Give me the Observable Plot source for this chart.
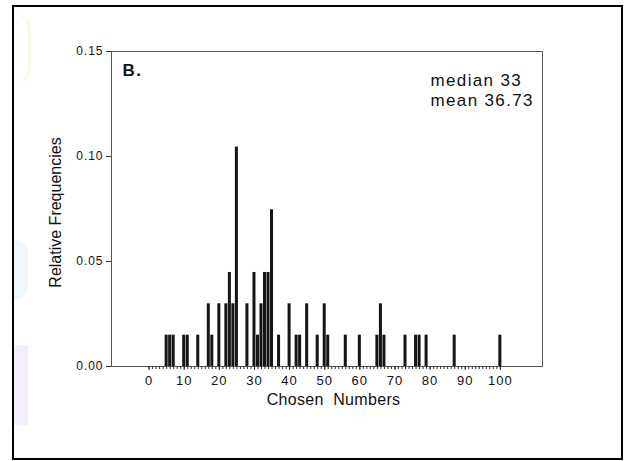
<!DOCTYPE html>
<html><head><meta charset="utf-8">
<script src="https://cdn.jsdelivr.net/npm/d3@7"></script>
<script src="https://cdn.jsdelivr.net/npm/@observablehq/plot@0.6"></script>
<style>
html,body{margin:0;padding:0;background:#fff;}
#wrap{position:relative;width:625px;height:461px;overflow:hidden;background:#fff;}
#wrap svg{position:absolute;left:0;top:0;}
#border{position:absolute;left:12px;top:5px;width:607px;height:451px;border:2px solid #000;pointer-events:none;}
.deco{position:absolute;}
</style></head><body>
<div id="wrap">
  <div class="deco" style="left:14px;top:345px;width:14px;height:80px;background:#f4eefc;"></div>
  <div class="deco" style="left:14px;top:240px;width:14px;height:60px;border-radius:0 30px 30px 0;background:#f0f7fc;"></div>
  <div class="deco" style="left:14px;top:14px;width:14px;height:70px;border-radius:0 30px 30px 0;border-right:3px solid #f7f9e4;"></div>
  <div id="border"></div>
</div>
<script>
// Data (counts out of 67 respondents)
const chosenNumbers = [5,6,7,10,11,14,17,18,20,22,23,24,25,28,30,31,32,33,34,35,37,40,42,43,45,48,50,51,56,60,65,66,67,73,76,77,79,87,100];
const counts        = [1,1,1,1, 1, 1, 2, 1, 2, 2, 3, 2, 7, 2, 3, 1, 2, 3, 3, 5, 1, 2, 1, 1, 2, 1, 2, 1, 1, 1, 1, 2, 1, 1, 1, 1, 1, 1, 1];
const xTickLabels = [0,10,20,30,40,50,60,70,80,90,100];
const xMinorTicks = [0,1,2,3,4,5,6,7,8,9,10,11,12,13,14,15,16,17,18,19,20,21,22,23,24,25,26,27,28,29,30,31,32,33,34,35,36,37,38,39,40,41,42,43,44,45,46,47,48,49,50,51,52,53,54,55,56,57,58,59,60,61,62,63,64,65,66,67,68,69,70,71,72,73,74,75,76,77,78,79,80,81,82,83,84,85,86,87,88,89,90,91,92,93,94,95,96,97,98,99,100];
const yTicks = [0, 0.05, 0.10, 0.15];
const panelLabel = "B.";
const statsLines = ["median 33", "mean 36.73"];
const xLabel = "Chosen  Numbers";
const yLabel = "Relative Frequencies";

const total = d3.sum(counts);
const data = chosenNumbers.map((v, i) => ({v, f: counts[i] / total}));
const font = "'Liberation Sans', Arial, Helvetica, sans-serif";

const chart = Plot.plot({
  width: 625, height: 461,
  marginLeft: 111, marginRight: 83, marginTop: 51, marginBottom: 95,
  style: {fontFamily: font, color: "#111", background: "transparent"},
  x: {domain: [-10.7, 112]},
  y: {domain: [0, 0.15]},
  marks: [
    Plot.rect(data, {x1: d => d.v - 0.43, x2: d => d.v + 0.43, y1: 0, y2: "f", fill: "#151515"}),
    Plot.frame({stroke: "#555", strokeWidth: 1}),
    Plot.axisX({ticks: xMinorTicks, tickSize: 3, tickFormat: () => "", label: null, stroke: "#333"}),
    Plot.axisX({ticks: xTickLabels, tickSize: 4, tickPadding: 5, fontSize: 13, label: null, stroke: "#333"}),
    Plot.axisY({ticks: yTicks, tickSize: 5, tickPadding: 3, tickFormat: d3.format(".2f"), fontSize: 12, label: null, stroke: "#333"}),
    Plot.text([yLabel], {frameAnchor: "left", text: d => d, rotate: -90, textAnchor: "middle", lineAnchor: "middle", dx: -56, dy: 3.5, fontSize: 16}),
    Plot.text([xLabel], {frameAnchor: "bottom", text: d => d, textAnchor: "middle", lineAnchor: "middle", dx: 6.5, dy: 33, fontSize: 16}),
    Plot.text([panelLabel], {frameAnchor: "top-left", text: d => d, textAnchor: "start", lineAnchor: "top", dx: 11, dy: 12, fontSize: 17, fontWeight: "bold"}),
    Plot.text([statsLines.join("\n")], {frameAnchor: "top-left", text: d => d, textAnchor: "start", lineAnchor: "top", dx: 319, dy: 20.5, fontSize: 17, lineHeight: 1.18})
  ]
});
// emulate the slightly wide lettering of the scanned original
d3.select(chart).selectAll("text").each(function() {
  const t = this.textContent;
  const ls = t === yLabel ? "0" : t === xLabel ? "0.02em" : "0.08em";
  d3.select(this).style("letter-spacing", ls);
});
document.getElementById("wrap").insertBefore(chart, document.getElementById("border"));
</script>
</body></html>
